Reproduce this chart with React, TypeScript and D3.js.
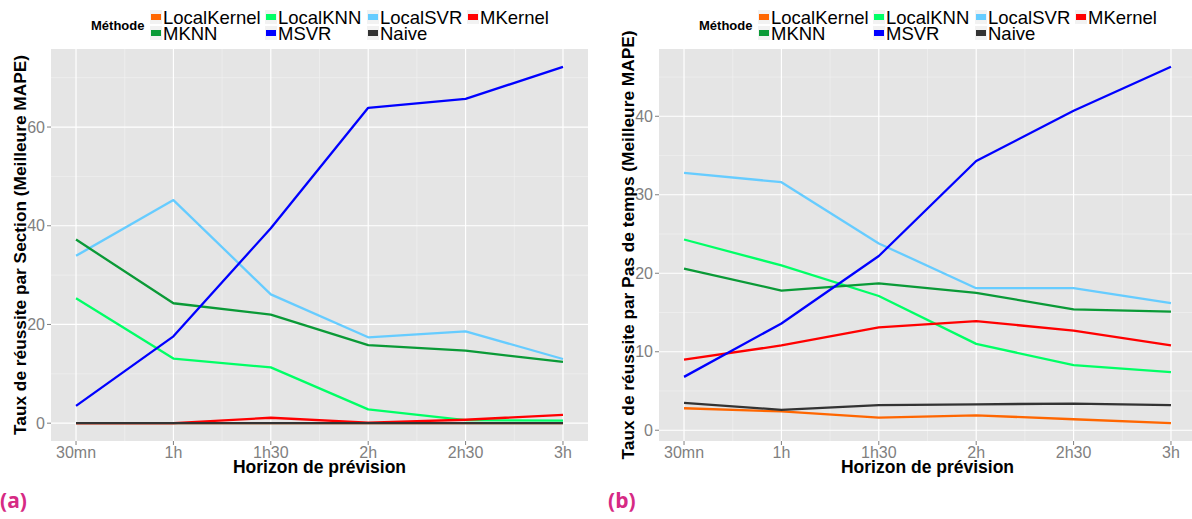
import React from "react";
import * as d3 from "d3";

const horizons = ["30mn", "1h", "1h30", "2h", "2h30", "3h"];
const methods = ["LocalKernel", "LocalKNN", "LocalSVR", "MKernel", "MKNN", "MSVR", "Naive"];
const methodColors = ["#FF6600", "#00FF66", "#66CCFF", "#FF0000", "#0A9A37", "#0000FF", "#333333"];

// Panel (a): Taux de réussite par Section
const aLocalKernel = [0, 0, 0, 0, 0, 0];
const aLocalKNN = [25.3, 13.1, 11.3, 2.8, 0.6, 0.5];
const aLocalSVR = [33.9, 45.2, 26.1, 17.4, 18.6, 13.0];
const aMKernel = [0, 0, 1.1, 0.1, 0.7, 1.7];
const aMKNN = [37.2, 24.3, 22.0, 15.8, 14.7, 12.4];
const aMSVR = [3.5, 17.6, 39.5, 63.9, 65.7, 72.2];
const aNaive = [0, 0, 0, 0, 0, 0];

// Panel (b): Taux de réussite par Pas de temps
const bLocalKernel = [2.8, 2.4, 1.6, 1.9, 1.4, 0.9];
const bLocalKNN = [24.3, 21.0, 17.1, 11.0, 8.3, 7.4];
const bLocalSVR = [32.8, 31.6, 23.8, 18.1, 18.1, 16.2];
const bMKernel = [9.0, 10.8, 13.1, 13.9, 12.7, 10.8];
const bMKNN = [20.6, 17.8, 18.7, 17.5, 15.4, 15.1];
const bMSVR = [6.8, 13.6, 22.2, 34.3, 40.7, 46.3];
const bNaive = [3.5, 2.6, 3.2, 3.3, 3.4, 3.2];

const aTicks = [0, 20, 40, 60];
const bTicks = [0, 10, 20, 30, 40];

const seriesA = [aLocalKernel, aLocalKNN, aLocalSVR, aMKernel, aMKNN, aMSVR, aNaive];
const seriesB = [bLocalKernel, bLocalKNN, bLocalSVR, bMKernel, bMKNN, bMSVR, bNaive];

const FONT = "'Liberation Sans', Arial, Helvetica, sans-serif";

type PanelProps = {
  offsetX: number;
  series: number[][];
  ticks: number[];
  yTitle: string;
  tag: string;
};

function Panel({ offsetX, series, ticks, yTitle, tag }: PanelProps) {
  const left = 51, right = 588, top = 49, bottom = 441;
  const all = series.flat();
  const [mn, mx] = d3.extent(all) as [number, number];
  const pad = (mx - mn) * 0.05;
  const y = d3.scaleLinear().domain([mn - pad, mx + pad]).range([bottom, top]);
  const x = d3.scalePoint<string>().domain(horizons).range([left, right]).padding(0.257);
  const step = x.step();
  const minorY: number[] = [];
  for (let i = 0; i < ticks.length; i++) {
    const d = ticks[1] - ticks[0];
    const m = ticks[i] + d / 2;
    const mm = ticks[0] - d / 2;
    if (i === 0 && y(mm) <= bottom) minorY.push(mm);
    if (y(m) >= top) minorY.push(m);
  }
  const minorX = horizons.slice(0, -1).map((h) => (x(h) as number) + step / 2);
  const line = d3
    .line<number>()
    .x((_, i) => x(horizons[i]) as number)
    .y((v) => y(v));

  const legendCols = [151, 266, 368, 468];
  const legendRows = [17, 33];

  return (
    <g transform={`translate(${offsetX},0)`}>
      <defs>
        <clipPath id={`clip-${tag}`}>
          <rect x={left} y={top} width={right - left} height={bottom - top} />
        </clipPath>
      </defs>
      <rect x={left} y={top} width={right - left} height={bottom - top} fill="#E5E5E5" />
      {minorY.map((v) => (
        <line key={`my${v}`} x1={left} x2={right} y1={y(v)} y2={y(v)} stroke="#F2F2F2" strokeWidth={0.6} />
      ))}
      {minorX.map((v, i) => (
        <line key={`mx${i}`} x1={v} x2={v} y1={top} y2={bottom} stroke="#F2F2F2" strokeWidth={0.6} />
      ))}
      {ticks.map((v) => (
        <line key={`gy${v}`} x1={left} x2={right} y1={y(v)} y2={y(v)} stroke="#FFFFFF" strokeWidth={1.2} />
      ))}
      {horizons.map((h) => (
        <line key={`gx${h}`} x1={x(h)} x2={x(h)} y1={top} y2={bottom} stroke="#FFFFFF" strokeWidth={1.2} />
      ))}
      <g clipPath={`url(#clip-${tag})`}>
        {series.map((s, i) => (
          <path key={methods[i]} d={line(s) || ""} fill="none" stroke={methodColors[i]} strokeWidth={2.3} strokeLinejoin="round" />
        ))}
      </g>
      {/* y axis */}
      {ticks.map((v) => (
        <g key={`ty${v}`}>
          <line x1={left - 4} x2={left} y1={y(v)} y2={y(v)} stroke="#7F7F7F" strokeWidth={1} />
          <text x={left - 6} y={y(v)} textAnchor="end" dominantBaseline="central" fontFamily={FONT} fontSize={16} fill="#7F7F7F">
            {v}
          </text>
        </g>
      ))}
      {/* x axis */}
      {horizons.map((h) => (
        <g key={`tx${h}`}>
          <line x1={x(h)} x2={x(h)} y1={bottom} y2={bottom + 4} stroke="#7F7F7F" strokeWidth={1} />
          <text x={x(h)} y={bottom + 11} textAnchor="middle" dominantBaseline="central" fontFamily={FONT} fontSize={16} fill="#7F7F7F">
            {h}
          </text>
        </g>
      ))}
      <text x={(left + right) / 2} y={473} textAnchor="middle" fontFamily={FONT} fontSize={17.5} fontWeight="bold" fill="#000">
        Horizon de prévision
      </text>
      <text
        transform={`translate(20,${(top + bottom) / 2}) rotate(-90)`}
        textAnchor="middle"
        dominantBaseline="central"
        fontFamily={FONT}
        fontSize={17.3}
        fontWeight="bold"
        fill="#000"
      >
        {yTitle}
      </text>
      {/* legend */}
      <text x={91} y={25} dominantBaseline="central" fontFamily={FONT} fontSize={13} fontWeight="bold" fill="#000">
        Méthode
      </text>
      {methods.map((m, i) => {
        const col = i % 4;
        const row = Math.floor(i / 4);
        const kx = legendCols[col];
        const ky = legendRows[row];
        return (
          <g key={`lg${m}`}>
            <rect x={kx - 1} y={ky - 7} width={12} height={14} fill="#F2F2F2" />
            <rect x={kx} y={ky - 3} width={10} height={6} fill={methodColors[i]} />
            <text x={kx + 12} y={ky} dominantBaseline="central" fontFamily={FONT} fontSize={18.5} fill="#000">
              {m}
            </text>
          </g>
        );
      })}
      <text x={0} y={508} fontFamily="'Open Sans', 'DejaVu Sans', sans-serif" fontSize={21} fontWeight="bold" fill="#D62A84">
        ({tag})
      </text>
    </g>
  );
}

export default function App() {
  return (
    <svg width={1192} height={519} style={{ position: "absolute", left: 0, top: 0, background: "#fff" }}>
      <Panel offsetX={0} series={seriesA} ticks={aTicks} yTitle="Taux de réussite par Section (Meilleure MAPE)" tag="a" />
      <Panel offsetX={608} series={seriesB} ticks={bTicks} yTitle="Taux de réussite par Pas de temps (Meilleure MAPE)" tag="b" />
    </svg>
  );
}
